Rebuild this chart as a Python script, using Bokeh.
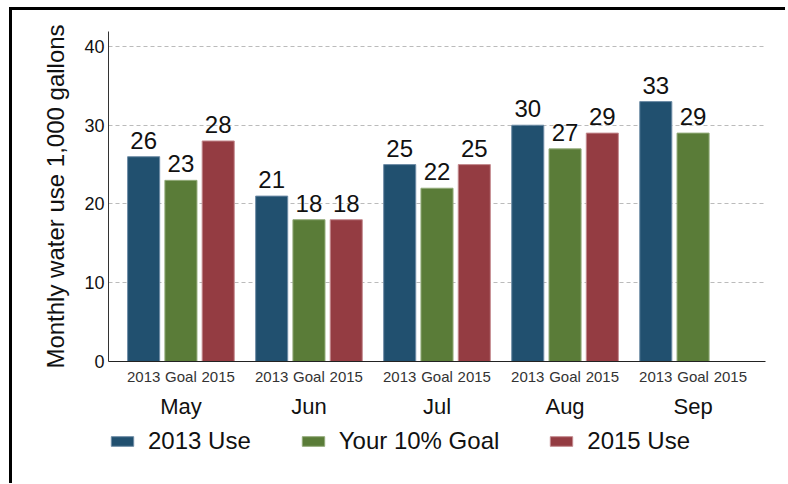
from bokeh.plotting import figure
from bokeh.models import (FactorRange, ColumnDataSource, LabelSet, Legend, LegendItem,
                          FixedTicker, Range1d)
from bokeh.layouts import column
from bokeh.core.properties import value
from bokeh.embed import file_html
from bokeh.resources import INLINE

months = ["May", "Jun", "Jul", "Aug", "Sep"]
sub_labels = ["2013", "Goal", "2015"]
series_names = ["2013 Use", "Your 10% Goal", "2015 Use"]
use_2013 = [26, 21, 25, 30, 33]
goal = [23, 18, 22, 27, 29]
use_2015 = [28, 18, 25, 29, None]
y_ticks = [0, 10, 20, 30, 40]
colors = ["#21506F", "#5A7C38", "#943C42"]
edge_colors = ["#6E8CA6", "#93AB7A", "#C48A8F"]

FONT = "Liberation Sans"
factors = [(m, s) for m in months for s in sub_labels]
xr = FactorRange(*factors, factor_padding=0.0, group_padding=0.434,
                 range_padding=0.4425, range_padding_units="absolute")

p = figure(x_range=xr, y_range=Range1d(0, 41.9),
           frame_width=657, frame_height=330,
           min_border_left=96, min_border_top=21, min_border_right=20, min_border_bottom=62,
           output_backend="svg", toolbar_location=None)
p.background_fill_color = "white"
p.border_fill_color = "white"
p.outline_line_color = None

# legend strip below the chart
q = figure(x_range=xr, y_range=Range1d(1000, 1001), width=773, height=60,
           min_border=0, x_axis_location=None, y_axis_location=None,
           output_backend="svg", toolbar_location=None)
q.outline_line_color = None
q.grid.visible = False
q.background_fill_color = "white"
q.border_fill_color = "white"

legend_renderers = []
for vals, sub, col, ecol in zip([use_2013, goal, use_2015], sub_labels, colors, edge_colors):
    xs = [(m, sub) for m, v in zip(months, vals) if v is not None]
    ys = [v for v in vals if v is not None]
    src = ColumnDataSource(dict(x=xs, y=ys, t=[str(v) for v in ys]))
    p.vbar(x="x", top="y", width=0.86, source=src, fill_color=col,
           line_color=ecol, line_width=1)
    legend_renderers.append(q.vbar(x="x", top="y", width=0.86, source=src, fill_color=col,
                                   line_color=ecol, line_width=1))
    p.add_layout(LabelSet(x="x", y="y", text="t", source=src, text_align="center",
                          text_baseline="alphabetic", y_offset=8,
                          text_font=value(FONT), text_font_size="24px",
                          text_color="#111111"))

# axes
xa = p.xaxis[0]
xa.axis_line_color = "#222222"
xa.axis_line_width = 1
xa.major_tick_line_color = None
xa.minor_tick_line_color = None
xa.major_tick_out = 0
xa.major_tick_in = 0
xa.major_label_text_font = FONT
xa.major_label_text_font_size = "15px"
xa.major_label_text_color = "#333333"
xa.major_label_standoff = 6
xa.group_text_font = FONT
xa.group_text_font_size = "22px"
xa.group_text_color = "#111111"
xa.group_text_font_style = "normal"
xa.separator_line_color = None

ya = p.yaxis[0]
ya.ticker = FixedTicker(ticks=y_ticks)
ya.axis_line_color = "#333333"
ya.major_tick_line_color = None
ya.minor_tick_line_color = None
ya.major_tick_out = 0
ya.major_tick_in = 0
ya.major_label_text_font = FONT
ya.major_label_text_font_size = "18px"
ya.major_label_text_color = "#111111"
ya.major_label_standoff = 4
ya.axis_label = "Monthly water use 1,000 gallons"
ya.axis_label_text_font = FONT
ya.axis_label_text_font_size = "24px"
ya.axis_label_text_font_style = "normal"
ya.axis_label_text_color = "#111111"
ya.axis_label_standoff = 12

p.xgrid.grid_line_color = None
p.ygrid.ticker = FixedTicker(ticks=y_ticks[1:])
p.ygrid.grid_line_color = "#BBBBBB"
p.ygrid.grid_line_dash = "4 3"
p.ygrid.grid_line_width = 1

lg = Legend(items=[LegendItem(label=n, renderers=[r])
                   for n, r in zip(series_names, legend_renderers)],
            location=(0, 28), orientation="horizontal", padding=0, margin=0, spacing=48,
            border_line_color=None, background_fill_alpha=0, glyph_width=28, glyph_height=12,
            label_standoff=12, label_text_font=FONT, label_text_font_size="24px",
            label_text_color="#111111")
q.add_layout(lg, "center")

layout = column(p, q, spacing=0)
layout.styles = {"border-top": "3px solid black", "border-left": "3px solid black",
                 "margin-top": "7px", "margin-left": "9px"}

open("out.html", "w").write(file_html(layout, INLINE))
